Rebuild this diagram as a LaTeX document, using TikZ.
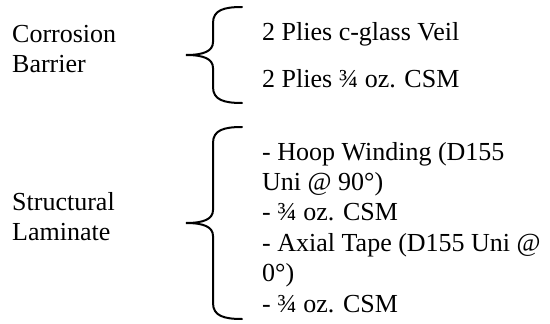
\documentclass[tikz,border=0pt]{standalone}
\usepackage{fontspec}
\setmainfont{Liberation Serif}
\tikzset{
  txt/.style={anchor=base west, inner sep=0pt, font=\fontsize{26}{30}\selectfont},
  bracestroke/.style={line width=2pt, line cap=round}
}
% left curly brace: top end, middle tip and bottom end (y values)
\newcommand\leftcurl[3]{%
  \draw[bracestroke] (242,#1) .. controls (224,#1) and (213,#1+3) .. (213,#1+16)
    -- (213,#2-13) .. controls (213,#2-4) and (204,#2) .. (186,#2)
    .. controls (204,#2) and (213,#2+4) .. (213,#2+13)
    -- (213,#3-16) .. controls (213,#3-3) and (224,#3) .. (242,#3);}
\begin{document}
\begin{tikzpicture}[x=1pt, y=-1pt]
\useasboundingbox (0,0) rectangle (550,324);

% corrosion barrier group
\node[txt] (corr)  at (12,42) {Corrosion};
\node[txt] (barr)  at (12,72.5) {Barrier};
\leftcurl{7}{55}{103}
\node[txt] (veil)  at (262,41) {2 Plies c-glass Veil};
\node[txt] (csmA)  at (262,88) {2 Plies ¾ oz. CSM};

% structural laminate group
\node[txt] (struc) at (12,210) {Structural};
\node[txt] (lam)   at (12,240.4) {Laminate};
\leftcurl{127}{223}{319}
\node[txt] (hoopA) at (262,160) {- Hoop Winding (D155};
\node[txt] (hoopB) at (262,190.4) {Uni @ 90°)};
\node[txt] (csmB)  at (262,220.8) {- ¾ oz. CSM};
\node[txt] (axA)   at (262,251.2) {- Axial Tape (D155 Uni @};
\node[txt] (axB)   at (262,281.6) {0°)};
\node[txt] (csmC)  at (262,312) {- ¾ oz. CSM};
\end{tikzpicture}
\end{document}
